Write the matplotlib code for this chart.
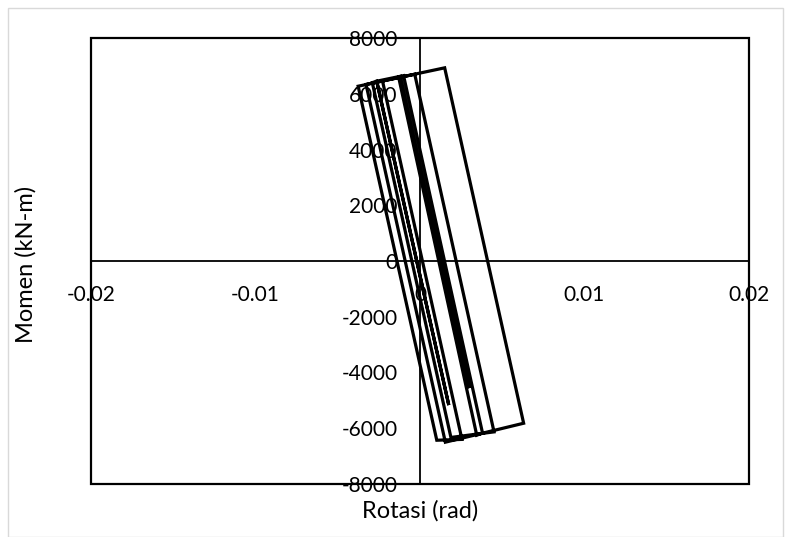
import matplotlib.pyplot as plt
from matplotlib.patches import Rectangle

# hysteresis path (rotation in rad, moment in kN-m)
rotasi = [0.0013, 0.0030, -0.00119, -0.0013, 0.00345, 0.0038, -0.0010,
          -0.00263, 0.00175, -0.00263, -0.0029, 0.00188, 0.0045, -0.00032,
          -0.00328, 0.00154, 0.0063, 0.0015, -0.00376, 0.00102, 0.00255,
          -0.00228]
momen = [0, -4560, 6620, 6600, -6250, -6170, 6650,
         6450, -5170, 6450, 6400, -6330, -6130, 6700,
         6335, -6500, -5820, 6930, 6270, -6430, -6400,
         6460]

xticks = [-0.02, -0.01, 0, 0.01, 0.02]
yticks = [-8000, -6000, -4000, -2000, 0, 2000, 4000, 6000, 8000]

plt.rcParams['font.family'] = ['Lato', 'DejaVu Sans']

fig = plt.figure(figsize=(7.9, 5.37), dpi=100)
ax = fig.add_axes([91/790, 1-484/537, (749-91)/790, (484-38)/537])

ax.plot(rotasi, momen, color='black', lw=2.3, solid_joinstyle='miter', zorder=3)

ax.set_xlim(-0.02, 0.02)
ax.set_ylim(-8000, 8000)
ax.set_xticks(xticks)
ax.set_xticklabels([str(t) if t != 0 else '0' for t in xticks])
ax.set_yticks(yticks)
ax.set_yticklabels([str(t) for t in yticks])

# axes crossing at zero, like Excel
ax.spines['left'].set_position('zero')
ax.spines['bottom'].set_position('zero')
ax.spines['top'].set_visible(False)
ax.spines['right'].set_visible(False)
for s in ['left', 'bottom']:
    ax.spines[s].set_linewidth(1.3)
ax.tick_params(axis='both', length=0, labelsize=15)
ax.tick_params(axis='y', pad=16)
ax.tick_params(axis='x', pad=17)

# plot area frame
ax.add_patch(Rectangle((0, 0), 1, 1, transform=ax.transAxes, fill=False,
                       lw=1.6, edgecolor='black', zorder=4, clip_on=False))

fig.text(420/790, 1-511/537, 'Rotasi (rad)', ha='center', va='center', fontsize=17)
fig.text(26/790, 1-264/537, 'Momen (kN-m)', ha='center', va='center',
         rotation=90, fontsize=17)

# chart area border
fig.patches.append(Rectangle((8/790, 0), 775/790, 1-8/537, transform=fig.transFigure,
                             fill=False, edgecolor='#d9d9d9', lw=1.0))

fig.savefig('out.png', dpi=100)
